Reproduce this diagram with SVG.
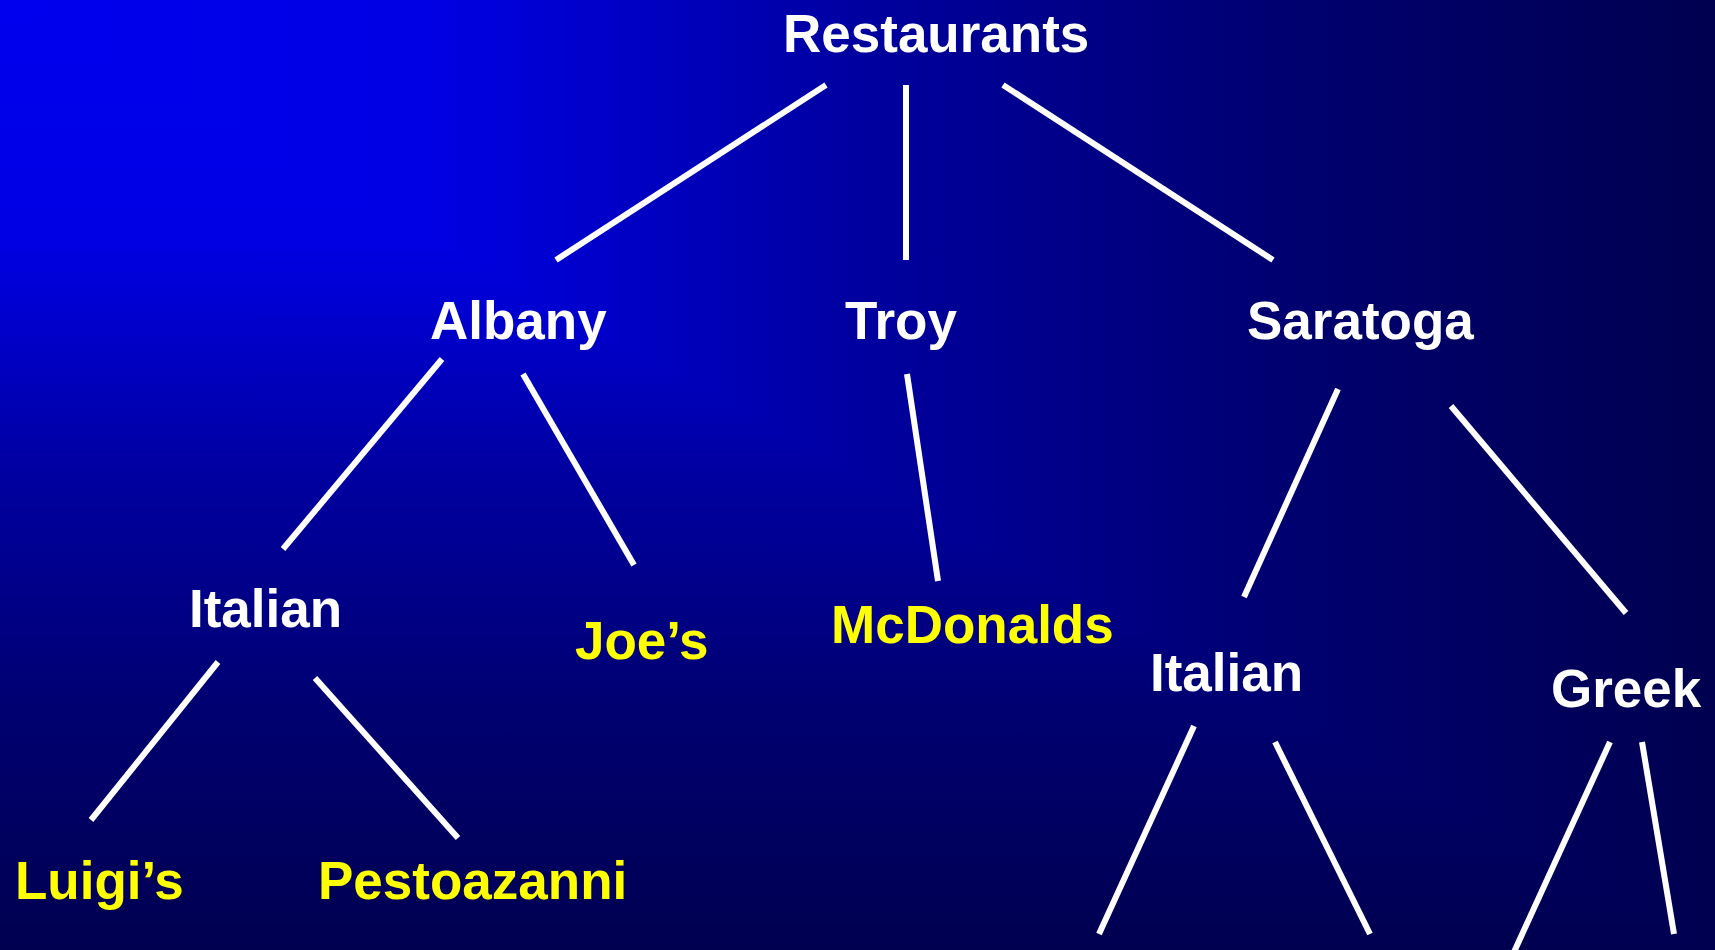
<svg xmlns="http://www.w3.org/2000/svg" width="1715" height="950" viewBox="0 0 1715 950">
  <defs>
    <linearGradient id="gx" x1="0" y1="0" x2="1" y2="0">
      <stop offset="0" stop-color="#0000EE"/>
      <stop offset="0.25" stop-color="#0000E4"/>
      <stop offset="0.5" stop-color="#0000A0"/>
      <stop offset="0.75" stop-color="#000070"/>
      <stop offset="1" stop-color="#000050"/>
    </linearGradient>
    <linearGradient id="gy" x1="0" y1="0" x2="0" y2="1">
      <stop offset="0" stop-color="#0000EE"/>
      <stop offset="0.25" stop-color="#0000E4"/>
      <stop offset="0.5" stop-color="#0000A0"/>
      <stop offset="0.75" stop-color="#000070"/>
      <stop offset="1" stop-color="#000050"/>
    </linearGradient>
  </defs>
  <style>
    .t { font-family: "Liberation Sans", Arial, sans-serif; font-weight: bold; font-size: 53px; }
    .w { fill: #FFFFFF; }
    .y { fill: #FFFF00; }
    .c line { stroke: #FFFFFF; stroke-width: 6; stroke-linecap: butt; }
  </style>
  <rect x="0" y="0" width="1715" height="950" fill="url(#gx)"/>
  <rect x="0" y="0" width="1715" height="950" fill="url(#gy)" style="mix-blend-mode: darken"/>

  <g id="connectors" class="c">
    <line x1="826" y1="85" x2="556" y2="260"/>
    <line x1="906" y1="85" x2="906" y2="260"/>
    <line x1="1003" y1="85" x2="1273" y2="260"/>
    <line x1="442" y1="359" x2="283" y2="549"/>
    <line x1="523" y1="374" x2="634" y2="565"/>
    <line x1="907" y1="374" x2="938" y2="581"/>
    <line x1="1338" y1="389" x2="1244" y2="597"/>
    <line x1="1451" y1="406" x2="1626" y2="613"/>
    <line x1="218" y1="662" x2="91" y2="820"/>
    <line x1="315" y1="678" x2="458" y2="838"/>
    <line x1="1194" y1="726" x2="1099" y2="934"/>
    <line x1="1275" y1="742" x2="1370" y2="934"/>
    <line x1="1610" y1="742" x2="1514" y2="952"/>
    <line x1="1642" y1="742" x2="1674" y2="934"/>
  </g>

  <g id="restaurants"><text class="t w" x="783" y="52">Restaurants</text></g>
  <g id="albany"><text class="t w" x="430" y="339">Albany</text></g>
  <g id="troy"><text class="t w" x="845" y="339">Troy</text></g>
  <g id="saratoga"><text class="t w" x="1247" y="339">Saratoga</text></g>
  <g id="albany-italian"><text class="t w" x="189" y="627">Italian</text></g>
  <g id="joes"><text class="t y" x="575" y="659">Joe’s</text></g>
  <g id="mcdonalds"><text class="t y" x="831" y="643">McDonalds</text></g>
  <g id="saratoga-italian"><text class="t w" x="1150" y="691">Italian</text></g>
  <g id="greek"><text class="t w" x="1551" y="707">Greek</text></g>
  <g id="luigis"><text class="t y" x="15" y="899">Luigi’s</text></g>
  <g id="pestoazanni"><text class="t y" x="318" y="899">Pestoazanni</text></g>
</svg>
